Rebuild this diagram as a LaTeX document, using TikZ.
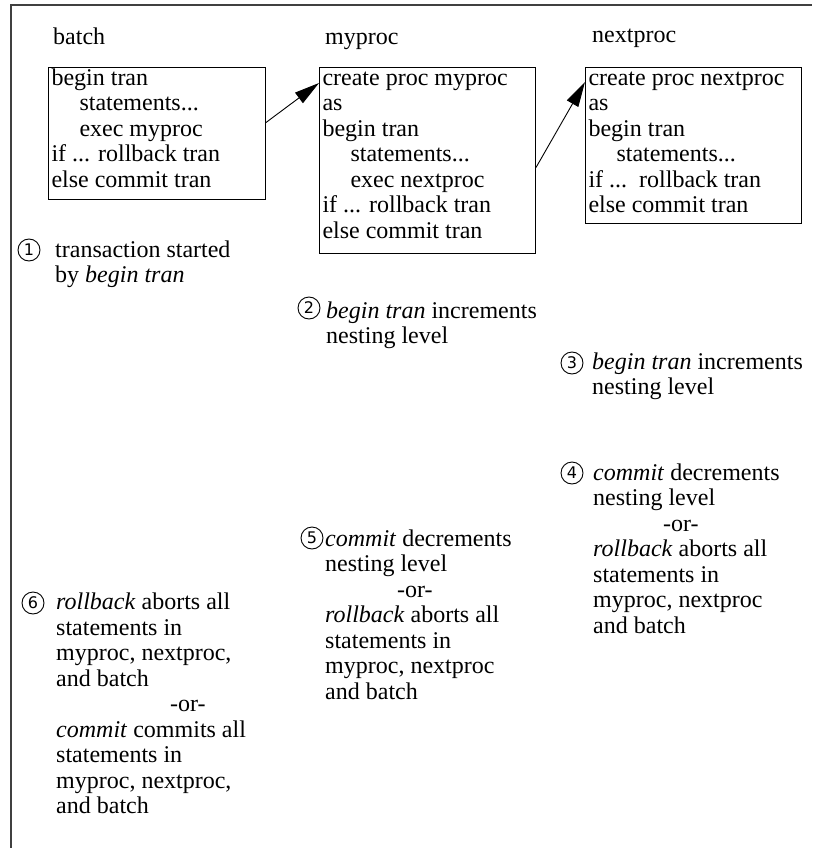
\documentclass[tikz,border=0pt]{standalone}
\usepackage{fontspec}
\setmainfont{Liberation Serif}
\newfontfamily\circfont{DejaVu Sans}
\usetikzlibrary{arrows.meta}
\begin{document}
\begin{tikzpicture}[x=1pt,y=-1pt,
  every node/.style={font=\fontsize{24}{25.5}\selectfont, inner sep=0pt},
  codebox/.style={draw, line width=1pt, anchor=north west, inner xsep=3pt, inner ysep=0pt},
  title/.style={anchor=base west},
  note/.style={anchor=north west, align=left},
  num/.style={draw, circle, line width=0.9pt, minimum size=22pt, inner sep=0pt,
    font=\circfont\fontsize{16}{16}\selectfont},
  link/.style={line width=0.9pt, -{Triangle[length=25pt,width=13pt]}},
  frame/.style={line width=1.3pt, black!75}]
\useasboundingbox (0,0) rectangle (812,848);
\draw[frame] (11,848) -- (11,5) -- (812,5);

% titles
\node[title] (tbatch) at (53,44.5) {batch};
\node[title] (tmyproc) at (325,44.5) {myproc};
\node[title] (tnextproc) at (592,42.5) {nextproc};

% code boxes
\node[codebox] (batchbox) at (48,67) {\parbox[c][132pt][t]{211pt}{\strut begin tran\\
\hspace*{28pt}statements...\\
\hspace*{28pt}exec myproc\\
if ... rollback tran\\
else commit tran}};

\node[codebox] (myprocbox) at (319,67) {\parbox[c][186pt][t]{210pt}{\strut create proc myproc\\
as\\
begin tran\\
\hspace*{28pt}statements...\\
\hspace*{28pt}exec nextproc\\
if ... rollback tran\\
else commit tran}};

\node[codebox] (nextprocbox) at (585,67) {\parbox[c][156pt][t]{210pt}{\strut create proc nextproc\\
as\\
begin tran\\
\hspace*{28pt}statements...\\
if ...\ \ rollback tran\\
else commit tran}};

% connectors
\draw[link] ([yshift=11pt]batchbox.east) -- ([yshift=-16pt]myprocbox.north west);
\draw[link] ([yshift=-7pt]myprocbox.east) -- ([yshift=-15pt]nextprocbox.north west);

% notes
\node[num] (c1) at (29,250) {1};
\node[note] (n1) at (55,239) {\strut transaction started\\ by \textit{begin tran}};

\node[num] (c2) at (309,308) {2};
\node[note] (n2) at (326,300) {\strut\textit{begin tran} increments\\ nesting level};

\node[num] (c3) at (572,363) {3};
\node[note] (n3) at (592,351) {\strut\textit{begin tran} increments\\ nesting level};

\node[num] (c4) at (572,473) {4};
\node[note] (n4) at (593,462) {\strut\textit{commit} decrements\\
nesting level\\
\hspace*{70pt}-or-\\
\textit{rollback} aborts all\\
statements in\\
myproc, nextproc\\
and batch};

\node[num] (c5) at (312,538) {5};
\node[note] (n5) at (325,528) {\strut\textit{commit} decrements\\
nesting level\\
\hspace*{72pt}-or-\\
\textit{rollback} aborts all\\
statements in\\
myproc, nextproc\\
and batch};

\node[num] (c6) at (33,603) {6};
\node[note] (n6) at (56,591.5) {\strut\textit{rollback} aborts all\\
statements in\\
myproc, nextproc,\\
and batch\\
\hspace*{114pt}-or-\\
\textit{commit} commits all\\
statements in\\
myproc, nextproc,\\
and batch};
\end{tikzpicture}
\end{document}
